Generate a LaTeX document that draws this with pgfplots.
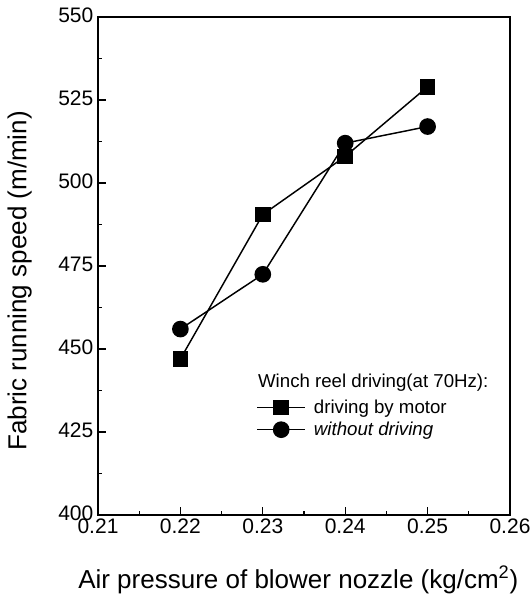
\documentclass[border=0pt]{standalone}
\usepackage{fontspec}
\setmainfont{Liberation Sans}
\usepackage{pgfplots}
\pgfplotsset{compat=1.18}
\begin{document}
\begin{tikzpicture}
\path[use as bounding box] (-73.5pt,-62.25pt) rectangle (324pt,386.25pt);
\begin{axis}[
  at={(0pt,0pt)}, anchor=south west,
  scale only axis, width=309pt, height=373.5pt,
  xmin=0.21, xmax=0.26, ymin=400, ymax=550,
  xtick={0.21,0.22,0.23,0.24,0.25,0.26},
  ytick={400,425,450,475,500,525,550},
  minor x tick num=1, minor y tick num=1,
  tick pos=left, tick align=inside,
  major tick length=6pt, minor tick length=3pt,
  axis line style={line width=1.4pt},
  every tick/.style={line width=1pt, black},
  /pgf/number format/assume math mode=true,
  ticklabel style={font=\fontsize{15.75}{18}\selectfont},
  xticklabel style={/pgf/number format/.cd, fixed, fixed zerofill, precision=2, /tikz/.cd, yshift=1pt},
  yticklabel style={/pgf/number format/.cd, fixed, /tikz/.cd, yshift=1.5pt},
  scaled x ticks=false,
  xlabel={Air pressure of blower nozzle (kg/cm\textsuperscript{2})},
  ylabel={Fabric running speed (m/min)},
  label style={font=\fontsize{19.5}{22}\selectfont},
  xlabel style={at={(axis description cs:0.486,-0.13)}, anchor=center},
  ylabel style={at={(axis description cs:-0.19,0.47)}, anchor=center},
  legend style={draw=none, fill=none, at={(axis description cs:0.384,0.236)}, anchor=north west,
    font=\fontsize{14}{16}\selectfont, inner xsep=0pt, inner ysep=0pt, row sep=2pt,
    nodes={inner xsep=3pt, inner ysep=1.5pt},
    /tikz/every odd column/.append style={column sep=3pt}},
  legend cell align=left,
  legend image code/.code={\draw[mark repeat=2,mark phase=2,#1] plot coordinates {(0pt,0pt) (18pt,0pt) (36pt,0pt)};},
]
\addplot[black, line width=1.1pt, mark=square*, mark size=5.3pt, mark options={solid}] coordinates {
  (0.22,447) (0.23,490.5) (0.24,508) (0.25,529)
};
\addlegendentry{driving by motor}
\addplot[black, line width=1.1pt, mark=*, mark size=5.7pt, mark options={solid}] coordinates {
  (0.22,456) (0.23,472.5) (0.24,512) (0.25,517)
};
\addlegendentry{\itshape without driving}
\node[anchor=west, inner sep=0pt, font=\fontsize{14}{16}\selectfont] at (axis description cs:0.388,0.265) {Winch reel driving(at 70Hz):};
\end{axis}
\end{tikzpicture}
\end{document}
